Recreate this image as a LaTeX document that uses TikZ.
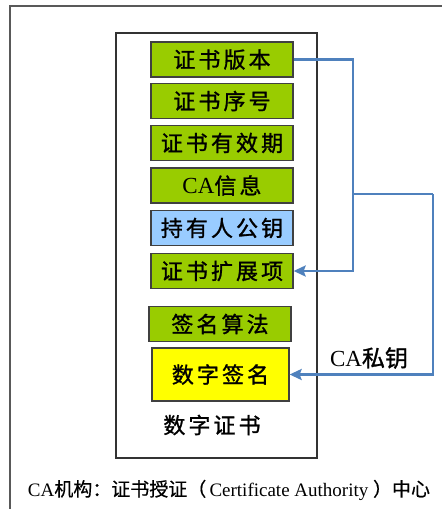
\documentclass[tikz,border=0pt]{standalone}
\usepackage{fontspec}
\setmainfont{Liberation Serif}
\newfontfamily\cjk[LetterSpace=14,FakeBold=1.2]{Noto Sans CJK SC}
\newfontfamily\cjkb[FakeBold=1.2]{Noto Sans CJK SC}
\newfontfamily\cjkr[FakeBold=0.5]{Noto Sans CJK SC}
\usetikzlibrary{arrows.meta}
\definecolor{cgreen}{RGB}{153,204,0}
\definecolor{cblue}{RGB}{153,204,255}
\definecolor{cyel}{RGB}{255,255,0}
\definecolor{cline}{RGB}{79,129,189}
\begin{document}
\begin{tikzpicture}[x=1pt,y=-1pt,
  box/.style={draw=black!75, line width=1.3pt, minimum width=142pt, minimum height=35pt, inner sep=0pt, font=\fontsize{22}{22}\selectfont},
  gbox/.style={box, fill=cgreen},
  conn/.style={draw=cline, line width=2.4pt, -{Stealth[length=12pt,width=11pt,inset=2pt]}},
  plain/.style={draw=cline, line width=2.4pt},
  lbl/.style={inner sep=0pt}
]
\useasboundingbox (0,0) rectangle (442,509);
\clip (0,0) rectangle (442,509);
\fill[white] (0,0) rectangle (442,509);
% outer frame (partly outside the picture)
\draw[draw=black!65, line width=2pt] (10,6) rectangle (460,530);
% certificate frame
\draw[draw=black!80, line width=1.3pt] (116,33) rectangle (317,458);

\node[gbox] (b1) at (222,59.5) {\cjk 证书版本};
\node[gbox] (b2) at (222,101) {\cjk 证书序号};
\node[gbox] (b3) at (222,143) {\cjk 证书有效期};
\node[gbox] (b4) at (222,185.5) {{\fontsize{23}{23}\selectfont CA}\cjk 信息};
\node[box, fill=cblue] (b5) at (222,228) {\cjk 持有人公钥};
\node[gbox] (b6) at (222,271) {\cjk 证书扩展项};
\node[gbox] (b7) at (220,324) {\cjk 签名算法};
\node[box, fill=cyel, minimum width=137pt, minimum height=53pt] (b8) at (220.5,374.5) {\cjk 数字签名};

\node[lbl, font=\fontsize{22}{22}\selectfont] (t1) at (212,425) {\cjk 数字证书};
\node[lbl, font=\fontsize{23}{23}\selectfont] (t2) at (369,358) {CA\cjkb 私钥};
\node[lbl, font=\fontsize{19}{19}\selectfont] (t3) at (229,490) {CA\cjkr 机构：证书授证（\,\rmfamily Certificate Authority\ \cjkr ）中心};

\coordinate (j1) at (353,59.5);
\coordinate (j2) at (353,194);
\coordinate (j3) at (433,194);
\draw[plain] (b1.east) -- (j1) -- (j2);
\draw[conn] (j2) |- (b6.east);
\draw[plain] (j2) -- (j3);
\draw[conn] (j3) |- (b8.east);
\end{tikzpicture}
\end{document}
